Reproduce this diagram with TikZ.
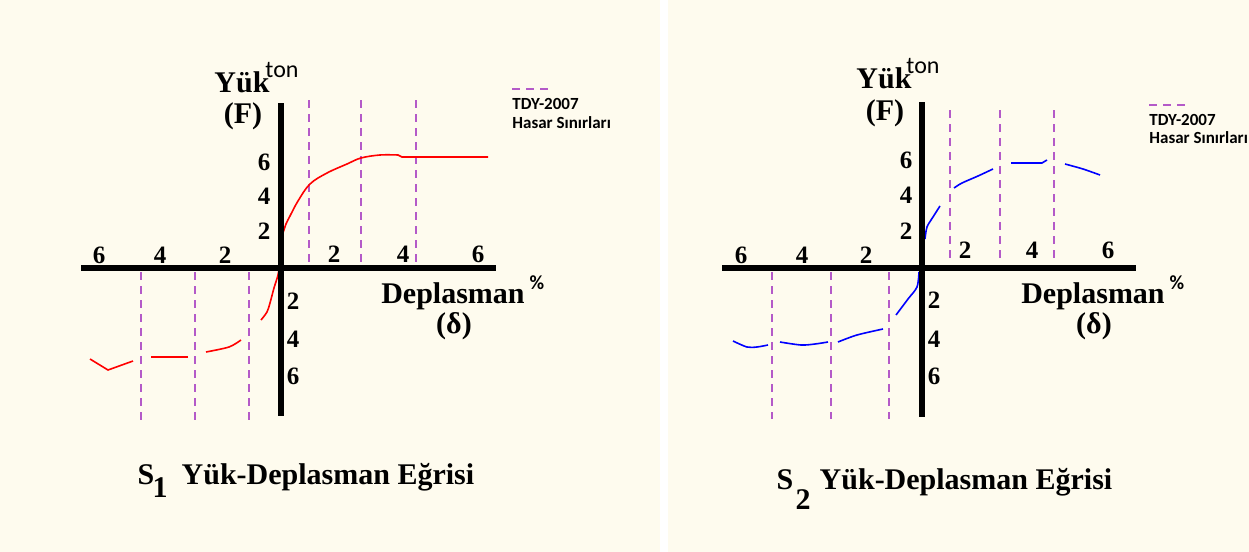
\documentclass[tikz,border=0pt]{standalone}
\usepackage{fontspec}
\setmainfont{Liberation Serif}
\newfontfamily\legendfont{Carlito}
\usetikzlibrary{positioning}
\definecolor{cream}{RGB}{254,251,238}
\definecolor{limitviolet}{RGB}{180,90,200}
\tikzset{
axis/.style={line width=2.6pt, black}, % the heavy F and delta axes
limit/.style={limitviolet, line width=0.6pt, dash pattern=on 4pt off 3pt}, % TDY-2007 damage limits
curveone/.style={red, line width=0.8pt}, % S1 curve
curvetwo/.style={blue, line width=0.8pt}, % S2 curve
tick/.style={font=\fontsize{12.5}{14}\selectfont\bfseries, inner sep=0pt},
biglabel/.style={font=\fontsize{15}{18}\selectfont\bfseries, inner sep=0pt, anchor=base},
unit/.style={font=\legendfont\fontsize{12}{14}\selectfont, inner sep=0pt},
legend/.style={font=\legendfont\fontsize{8.5}{10}\selectfont\bfseries, inner sep=0pt, anchor=west},
}
\begin{document}
\begin{tikzpicture}[x=0.5pt, y=-0.5pt]
\useasboundingbox (0,0) rectangle (1249,552);
\fill[cream] (0,0) rectangle (1249,552);
\fill[white] (660,0) rectangle (668,552);

% ---- S1 ----
\coordinate (xl1) at (81,268);
\coordinate (xr1) at (496,268);
\coordinate (yt1) at (281,103);
\coordinate (yb1) at (281,416);

\foreach \x in {309,361,416} \draw[limit] (\x,100) -- (\x,264);
\foreach \x in {141,195,249} \draw[limit] (\x,272) -- (\x,423);

\draw[curveone] plot[smooth, tension=0.6] coordinates {(283,233) (286,224) (290,216) (298,201) (310,184) (327,173) (347,164) (361,158) (380,155) (398,155)} -- (402,157) -- (488,157);
\draw[curveone] plot[smooth] coordinates {(280,262) (278,275) (274,288) (270,303) (267,312) (261,320)};
\draw[curveone] plot[smooth] coordinates {(241,340) (229,347) (206,352)};
\draw[curveone] (188,357) -- (151,357);
\draw[curveone] (133,361) -- (108,370) -- (90,359);

\draw[axis] (xl1) -- (xr1);
\draw[axis] (yt1) -- (yb1);

\foreach \v/\y in {6/162,4/196,2/231} \node[tick] (fup1\v) at (264,\y) {\v};
\foreach \v/\y in {2/301,4/339,6/376} \node[tick] (fdn1\v) at (293,\y) {\v};
\foreach \v/\x in {6/99,4/160,2/225} \node[tick] (dl1\v) at (\x,255) {\v};
\foreach \v/\x in {2/334,4/403,6/478} \node[tick] (dr1\v) at (\x,254) {\v};

\node[biglabel] (yuk1) at (242,92) {Yük};
\node[unit] (ton1) at (282,70) {ton};
\node[biglabel, anchor=center] (f1) at (243,116) {(F)};
\node[biglabel] (dep1) at (453,303) {Deplasman};
\node[unit, font=\legendfont\fontsize{10}{12}\selectfont\bfseries] (pc1) at (537,283) {\%};
\node[biglabel, anchor=center] (delta1) at (454,326) {(δ)};

\draw[limit] (512,89) -- (553,89);
\node[legend] (tdy1) at (512,104) {TDY-2007};
\node[legend] (has1) at (512,123) {Hasar Sınırları};

\node[biglabel] (s1) at (146,484) {S};
\node[biglabel] (s1n) at (160,497) {1};
\node[biglabel] (title1) at (328,484) {Yük-Deplasman Eğrisi};

% ---- S2 ----
\coordinate (xl2) at (722,268);
\coordinate (xr2) at (1136,268);
\coordinate (yt2) at (922,102);
\coordinate (yb2) at (922,417);

\foreach \x in {950,1000,1054} \draw[limit] (\x,110) -- (\x,258);
\foreach \x in {772,831,889} \draw[limit] (\x,272) -- (\x,419);

\draw[curvetwo] plot[smooth] coordinates {(925,239) (927,227) (933,217) (940,206)};
\draw[curvetwo] plot[smooth] coordinates {(954,188) (962,183) (978,176) (993,169)};
\draw[curvetwo] (1011,163) -- (1042,163) -- (1047,160);
\draw[curvetwo] plot[smooth] coordinates {(1065,164) (1083,169) (1100,175)};
\draw[curvetwo] plot[smooth] coordinates {(919,272) (917,287) (908,299) (896,315)};
\draw[curvetwo] plot[smooth] coordinates {(883,329) (857,335) (838,342)};
\draw[curvetwo] plot[smooth] coordinates {(828,342) (815,344) (801,345) (780,342)};
\draw[curvetwo] plot[smooth] coordinates {(768,345) (757,347) (747,347) (733,341)};

\draw[axis] (xl2) -- (xr2);
\draw[axis] (yt2) -- (yb2);

\foreach \v/\y in {6/160,4/195,2/231} \node[tick] (fup2\v) at (906,\y) {\v};
\foreach \v/\y in {2/300,4/339,6/376} \node[tick] (fdn2\v) at (934,\y) {\v};
\foreach \v/\x in {6/741,4/802,2/866} \node[tick] (dl2\v) at (\x,255) {\v};
\foreach \v/\x in {2/965,4/1032,6/1108} \node[tick] (dr2\v) at (\x,250) {\v};

\node[biglabel] (yuk2) at (884,88) {Yük};
\node[unit] (ton2) at (923,66) {ton};
\node[biglabel, anchor=center] (f2) at (885,113) {(F)};
\node[biglabel] (dep2) at (1093,303) {Deplasman};
\node[unit, font=\legendfont\fontsize{10}{12}\selectfont\bfseries] (pc2) at (1177,283) {\%};
\node[biglabel, anchor=center] (delta2) at (1094,326) {(δ)};

\draw[limit] (1149,105) -- (1188,105);
\node[legend] (tdy2) at (1149,120) {TDY-2007};
\node[legend] (has2) at (1149,138) {Hasar Sınırları};

\node[biglabel] (s2) at (785,489) {S};
\node[biglabel] (s2n) at (803,509) {2};
\node[biglabel] (title2) at (966,489) {Yük-Deplasman Eğrisi};
\end{tikzpicture}
\end{document}
